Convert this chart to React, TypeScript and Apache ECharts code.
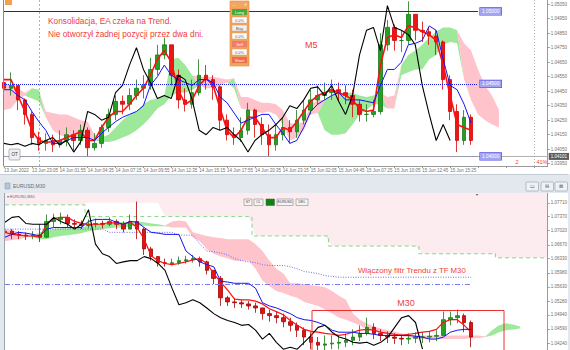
import React, { useEffect, useRef } from 'react';
import * as echarts from 'echarts';

// ---------- DATA ----------
const topTimeLabels = ['13 Jun 2022', '13 Jun 23:05', '14 Jun 01:55', '14 Jun 04:35', '14 Jun 07:15', '14 Jun 09:55', '14 Jun 12:35', '14 Jun 15:15', '14 Jun 17:55', '14 Jun 20:35', '14 Jun 23:15', '15 Jun 02:05', '15 Jun 04:45', '15 Jun 07:25', '15 Jun 10:05', '15 Jun 12:45', '15 Jun 15:25'];
const topPriceTicks = [1.0395, 1.0405, 1.0415, 1.0425, 1.0435, 1.0445, 1.0455, 1.0465, 1.0475, 1.0485, 1.0495, 1.0505];
const botPriceTicks = [1.0424, 1.0459, 1.0494, 1.0528, 1.0563, 1.0598, 1.0633, 1.0667, 1.0702, 1.0737, 1.0771];

const topFirstOpen = 1.0451;
const topClose = [1.0447, 1.0449, 1.0439, 1.0429, 1.0413, 1.0409, 1.0411, 1.0408, 1.0411, 1.0415,
  1.0411, 1.0418, 1.0406, 1.0409, 1.0420, 1.0429, 1.0438, 1.0436, 1.0442, 1.0447,
  1.0449, 1.0460, 1.0470, 1.0477, 1.0456, 1.0439, 1.0436, 1.0444, 1.0456, 1.0453,
  1.0448, 1.0425, 1.0415, 1.0413, 1.0418, 1.0432, 1.0422, 1.0415, 1.0408, 1.0415,
  1.0420, 1.0417, 1.0425, 1.0432, 1.0439, 1.0442, 1.0444, 1.0446, 1.0444, 1.0442,
  1.0436, 1.0429, 1.0429, 1.0431, 1.0477, 1.0489, 1.0480, 1.0480, 1.0498, 1.0487,
  1.0486, 1.0483, 1.0479, 1.0453, 1.0431, 1.0411, 1.0427, 1.0411];
const topHigh = [1.0454, 1.0458, 1.0449, 1.0440, 1.0431, 1.0417, 1.0416, 1.0415, 1.0418, 1.0420,
  1.0418, 1.0422, 1.0420, 1.0416, 1.0422, 1.0433, 1.0442, 1.0442, 1.0447, 1.0453,
  1.0456, 1.0468, 1.0477, 1.0482, 1.0477, 1.0460, 1.0447, 1.0453, 1.0467, 1.0463,
  1.0456, 1.0449, 1.0429, 1.0420, 1.0427, 1.0437, 1.0433, 1.0427, 1.0422, 1.0422,
  1.0427, 1.0425, 1.0432, 1.0439, 1.0446, 1.0449, 1.0451, 1.0453, 1.0451, 1.0449,
  1.0446, 1.0439, 1.0436, 1.0439, 1.0485, 1.0494, 1.0491, 1.0487, 1.0507, 1.0498,
  1.0493, 1.0489, 1.0487, 1.0480, 1.0456, 1.0436, 1.0432, 1.0429];
const topLow = [1.0439, 1.0442, 1.0432, 1.0422, 1.0408, 1.0404, 1.0404, 1.0403, 1.0406, 1.0407,
  1.0404, 1.0408, 1.0400, 1.0404, 1.0406, 1.0417, 1.0425, 1.0429, 1.0432, 1.0439,
  1.0440, 1.0446, 1.0456, 1.0467, 1.0449, 1.0433, 1.0431, 1.0433, 1.0442, 1.0446,
  1.0439, 1.0418, 1.0411, 1.0408, 1.0410, 1.0415, 1.0413, 1.0408, 1.0400, 1.0404,
  1.0411, 1.0409, 1.0413, 1.0422, 1.0429, 1.0436, 1.0439, 1.0439, 1.0438, 1.0436,
  1.0427, 1.0424, 1.0424, 1.0427, 1.0429, 1.0473, 1.0473, 1.0472, 1.0477, 1.0480,
  1.0479, 1.0477, 1.0470, 1.0446, 1.0425, 1.0403, 1.0408, 1.0408];
const topTenkan = [1.0453, 1.0453, 1.0442, 1.0431, 1.0418, 1.0411, 1.0410, 1.0410, 1.0411, 1.0413,
  1.0415, 1.0417, 1.0411, 1.0411, 1.0420, 1.0427, 1.0431, 1.0431, 1.0436, 1.0442,
  1.0447, 1.0456, 1.0467, 1.0473, 1.0465, 1.0446, 1.0436, 1.0439, 1.0449, 1.0454,
  1.0449, 1.0433, 1.0418, 1.0413, 1.0418, 1.0427, 1.0427, 1.0420, 1.0413, 1.0413,
  1.0420, 1.0418, 1.0424, 1.0431, 1.0438, 1.0442, 1.0444, 1.0446, 1.0444, 1.0442,
  1.0439, 1.0433, 1.0431, 1.0432, 1.0463, 1.0482, 1.0484, 1.0482, 1.0490, 1.0489,
  1.0486, 1.0484, 1.0480, 1.0463, 1.0442, 1.0422, 1.0420, 1.0418];
const topKijun = [1.0446, 1.0446, 1.0442, 1.0439, 1.0431, 1.0424, 1.0418, 1.0409, 1.0409, 1.0411,
  1.0413, 1.0413, 1.0413, 1.0411, 1.0416, 1.0420, 1.0424, 1.0427, 1.0429, 1.0431,
  1.0435, 1.0449, 1.0455, 1.0463, 1.0456, 1.0453, 1.0451, 1.0449, 1.0453, 1.0453,
  1.0451, 1.0441, 1.0437, 1.0430, 1.0423, 1.0425, 1.0427, 1.0429, 1.0429, 1.0422,
  1.0416, 1.0409, 1.0411, 1.0420, 1.0431, 1.0436, 1.0439, 1.0442, 1.0444, 1.0439,
  1.0439, 1.0439, 1.0438, 1.0437, 1.0449, 1.0460, 1.0460, 1.0465, 1.0477, 1.0478,
  1.0480, 1.0490, 1.0487, 1.0467, 1.0449, 1.0446, 1.0436, 1.0423];
const topChikou = [1.0409, 1.0408, 1.0409, 1.0407, 1.0409, 1.0408, 1.0411, 1.0413, 1.0408, 1.0411,
  1.0403, 1.0410, 1.0431, 1.0429, 1.0425, 1.0427, 1.0444, 1.0449, 1.0463, 1.0475,
  1.0460, 1.0451, 1.0440, 1.0442, 1.0440, 1.0456, 1.0453, 1.0439, 1.0418, 1.0415,
  1.0420, 1.0418, 1.0420, 1.0415, 1.0411, 1.0403, 1.0411, 1.0415, 1.0418, 1.0422,
  1.0427, 1.0435, 1.0433, 1.0439, 1.0447, 1.0448, 1.0442, 1.0449, 1.0438, 1.0429,
  1.0442, 1.0470, 1.0487, 1.0489, 1.0473, 1.0504, 1.0489, 1.0487, 1.0484, 1.0477,
  1.0449, 1.0429, 1.0411, 1.0422, 1.0411];
const topSpanA = [1.0432, 1.0433, 1.0439, 1.0442, 1.0447, 1.0446, 1.0427, 1.0418, 1.0415, 1.0413,
  1.0413, 1.0413, 1.0413, 1.0411, 1.0413, 1.0415, 1.0420, 1.0425, 1.0429, 1.0431,
  1.0436, 1.0439, 1.0440, 1.0442, 1.0467, 1.0468, 1.0463, 1.0456, 1.0449, 1.0447,
  1.0447, 1.0449, 1.0451, 1.0454, 1.0433, 1.0432, 1.0431, 1.0430, 1.0431, 1.0429,
  1.0422, 1.0411, 1.0413, 1.0418, 1.0429, 1.0430, 1.0439, 1.0442, 1.0444, 1.0444,
  1.0444, 1.0442, 1.0441, 1.0442, 1.0444, 1.0433, 1.0433, 1.0463, 1.0470, 1.0473,
  1.0477, 1.0482, 1.0486, 1.0489, 1.0489, 1.0487, 1.0453, 1.0439, 1.0429, 1.0425,
  1.0422, 1.0420];
const topSpanB = [1.0451, 1.0449, 1.0447, 1.0444, 1.0440, 1.0438, 1.0431, 1.0430, 1.0429, 1.0429,
  1.0427, 1.0425, 1.0424, 1.0415, 1.0410, 1.0410, 1.0411, 1.0413, 1.0415, 1.0418,
  1.0422, 1.0427, 1.0433, 1.0436, 1.0442, 1.0444, 1.0444, 1.0446, 1.0455, 1.0455,
  1.0455, 1.0454, 1.0453, 1.0447, 1.0441, 1.0441, 1.0439, 1.0437, 1.0437, 1.0436,
  1.0432, 1.0423, 1.0422, 1.0424, 1.0436, 1.0439, 1.0418, 1.0415, 1.0415, 1.0416,
  1.0422, 1.0429, 1.0432, 1.0436, 1.0436, 1.0441, 1.0442, 1.0456, 1.0458, 1.0460,
  1.0460, 1.0467, 1.0470, 1.0477, 1.0479, 1.0478, 1.0478, 1.0473, 1.0460, 1.0449,
  1.0442, 1.0432];
const topLevels = [1.05, 1.045, 1.04];
const topLevelStyles = ['solid', 'dotted', 'solid'];
const topCurrentPrice = 1.04101;

const botFirstOpen = 1.0698;
const botClose = [1.0701, 1.0693, 1.0691, 1.0689, 1.0691, 1.0686, 1.0725, 1.0730, 1.0735, 1.0720,
  1.0718, 1.0715, 1.0718, 1.0720, 1.0718, 1.0725, 1.0718, 1.0706, 1.0725, 1.0706,
  1.0657, 1.0638, 1.0623, 1.0621, 1.0623, 1.0628, 1.0630, 1.0633, 1.0625, 1.0604,
  1.0584, 1.0536, 1.0526, 1.0524, 1.0521, 1.0516, 1.0511, 1.0497, 1.0492, 1.0487,
  1.0477, 1.0468, 1.0456, 1.0439, 1.0426, 1.0419, 1.0422, 1.0424, 1.0426, 1.0431,
  1.0439, 1.0448, 1.0463, 1.0448, 1.0443, 1.0439, 1.0436, 1.0434, 1.0436, 1.0439,
  1.0439, 1.0441, 1.0443, 1.0482, 1.0487, 1.0492, 1.0475, 1.0439];
const botHigh = [1.0715, 1.0706, 1.0701, 1.0698, 1.0701, 1.0718, 1.0742, 1.0744, 1.0747, 1.0742,
  1.0730, 1.0727, 1.0730, 1.0732, 1.0727, 1.0735, 1.0730, 1.0725, 1.0742, 1.0774,
  1.0710, 1.0662, 1.0638, 1.0633, 1.0633, 1.0638, 1.0640, 1.0642, 1.0638, 1.0628,
  1.0604, 1.0590, 1.0541, 1.0536, 1.0531, 1.0528, 1.0524, 1.0511, 1.0507, 1.0502,
  1.0497, 1.0487, 1.0475, 1.0463, 1.0451, 1.0439, 1.0443, 1.0443, 1.0443, 1.0448,
  1.0458, 1.0468, 1.0487, 1.0473, 1.0458, 1.0453, 1.0448, 1.0446, 1.0448, 1.0451,
  1.0451, 1.0453, 1.0456, 1.0502, 1.0502, 1.0507, 1.0497, 1.0480];
const botLow = [1.0686, 1.0681, 1.0681, 1.0679, 1.0681, 1.0674, 1.0684, 1.0710, 1.0718, 1.0710,
  1.0708, 1.0706, 1.0708, 1.0710, 1.0708, 1.0713, 1.0706, 1.0698, 1.0706, 1.0681,
  1.0642, 1.0628, 1.0613, 1.0613, 1.0616, 1.0618, 1.0621, 1.0623, 1.0613, 1.0594,
  1.0570, 1.0516, 1.0516, 1.0511, 1.0511, 1.0507, 1.0499, 1.0482, 1.0477, 1.0473,
  1.0463, 1.0453, 1.0439, 1.0419, 1.0409, 1.0400, 1.0405, 1.0409, 1.0409, 1.0414,
  1.0419, 1.0429, 1.0443, 1.0434, 1.0429, 1.0424, 1.0422, 1.0419, 1.0422, 1.0424,
  1.0424, 1.0426, 1.0429, 1.0443, 1.0468, 1.0473, 1.0451, 1.0414];
const botTenkan = [1.0698, 1.0693, 1.0691, 1.0689, 1.0689, 1.0686, 1.0718, 1.0732, 1.0735, 1.0735,
  1.0725, 1.0720, 1.0718, 1.0718, 1.0718, 1.0723, 1.0720, 1.0718, 1.0723, 1.0710,
  1.0681, 1.0640, 1.0628, 1.0621, 1.0618, 1.0621, 1.0625, 1.0630, 1.0633, 1.0621,
  1.0596, 1.0575, 1.0555, 1.0533, 1.0531, 1.0531, 1.0528, 1.0521, 1.0509, 1.0502,
  1.0494, 1.0480, 1.0468, 1.0458, 1.0453, 1.0451, 1.0448, 1.0446, 1.0443, 1.0446,
  1.0451, 1.0456, 1.0458, 1.0456, 1.0451, 1.0448, 1.0446, 1.0443, 1.0446, 1.0448,
  1.0451, 1.0453, 1.0458, 1.0475, 1.0482, 1.0482, 1.0468, 1.0451];
const botKijun = [1.0686, 1.0693, 1.0698, 1.0696, 1.0693, 1.0689, 1.0706, 1.0710, 1.0710, 1.0710,
  1.0710, 1.0710, 1.0725, 1.0730, 1.0730, 1.0730, 1.0723, 1.0718, 1.0725, 1.0723,
  1.0710, 1.0698, 1.0696, 1.0693, 1.0693, 1.0693, 1.0652, 1.0638, 1.0625, 1.0618,
  1.0613, 1.0577, 1.0575, 1.0572, 1.0572, 1.0572, 1.0560, 1.0524, 1.0516, 1.0511,
  1.0504, 1.0497, 1.0487, 1.0482, 1.0480, 1.0475, 1.0468, 1.0456, 1.0451, 1.0451,
  1.0451, 1.0448, 1.0448, 1.0446, 1.0443, 1.0443, 1.0443, 1.0443, 1.0443, 1.0441,
  1.0439, 1.0434, 1.0434, 1.0439, 1.0451, 1.0456, 1.0458, 1.0458];
const botChikou = [1.0723, 1.0735, 1.0737, 1.0720, 1.0718, 1.0718, 1.0718, 1.0735, 1.0725, 1.0718,
  1.0706, 1.0718, 1.0754, 1.0669, 1.0645, 1.0638, 1.0621, 1.0625, 1.0628, 1.0628,
  1.0638, 1.0633, 1.0621, 1.0604, 1.0560, 1.0519, 1.0524, 1.0531, 1.0524, 1.0511,
  1.0497, 1.0487, 1.0480, 1.0475, 1.0468, 1.0470, 1.0456, 1.0434, 1.0448, 1.0426,
  1.0409, 1.0414, 1.0409, 1.0426, 1.0443, 1.0463, 1.0468, 1.0451, 1.0439, 1.0434,
  1.0426, 1.0424, 1.0426, 1.0419, 1.0426, 1.0439, 1.0463, 1.0487, 1.0492, 1.0475,
  1.0409];
const botSpanA = [1.0676, 1.0679, 1.0681, 1.0686, 1.0686, 1.0698, 1.0701, 1.0706, 1.0708, 1.0708,
  1.0710, 1.0710, 1.0715, 1.0718, 1.0720, 1.0720, 1.0723, 1.0723, 1.0725, 1.0725,
  1.0723, 1.0720, 1.0718, 1.0715, 1.0710, 1.0710, 1.0710, 1.0686, 1.0676, 1.0657,
  1.0645, 1.0638, 1.0633, 1.0628, 1.0628, 1.0628, 1.0608, 1.0579, 1.0565, 1.0553,
  1.0548, 1.0541, 1.0536, 1.0526, 1.0521, 1.0516, 1.0507, 1.0497, 1.0487, 1.0482,
  1.0475, 1.0468, 1.0458, 1.0453, 1.0448, 1.0446, 1.0443, 1.0441, 1.0439, 1.0434,
  1.0434, 1.0434, 1.0434, 1.0434, 1.0434, 1.0434, 1.0434, 1.0436, 1.0436, 1.0439,
  1.0456, 1.0468, 1.0473, 1.0470, 1.0465];
const botSpanB = [1.0706, 1.0703, 1.0698, 1.0693, 1.0691, 1.0681, 1.0681, 1.0686, 1.0689, 1.0691,
  1.0693, 1.0696, 1.0701, 1.0703, 1.0706, 1.0708, 1.0710, 1.0710, 1.0713, 1.0715,
  1.0715, 1.0713, 1.0713, 1.0713, 1.0725, 1.0727, 1.0725, 1.0698, 1.0693, 1.0689,
  1.0686, 1.0684, 1.0681, 1.0681, 1.0681, 1.0681, 1.0669, 1.0652, 1.0628, 1.0608,
  1.0596, 1.0572, 1.0572, 1.0570, 1.0567, 1.0565, 1.0562, 1.0553, 1.0541, 1.0531,
  1.0497, 1.0482, 1.0473, 1.0465, 1.0460, 1.0456, 1.0453, 1.0448, 1.0446, 1.0443,
  1.0443, 1.0443, 1.0443, 1.0443, 1.0443, 1.0443, 1.0443, 1.0443, 1.0443, 1.0441,
  1.0443, 1.0451, 1.0456, 1.0458, 1.0460];
// higher-timeframe cloud (dashed green span, dotted pink fill, dotted blue kijun)
const botHtfSpan = [1.0766, 1.0766, 1.0766, 1.0766, 1.0766, 1.0766, 1.0766, 1.0766, 1.0766, 1.0766,
  1.0766, 1.0766, 1.0737, 1.0737, 1.0737, 1.0737, 1.0737, 1.0737, 1.0737, 1.0737,
  1.0737, 1.0737, 1.0737, 1.0737, 1.0737, 1.0737, 1.0737, 1.0737, 1.0737, 1.0737,
  1.0737, 1.0737, 1.0737, 1.0737, 1.0737, 1.0737, 1.0689, 1.0689, 1.0689, 1.0689,
  1.0689, 1.0689, 1.0689, 1.0689, 1.0689, 1.0689, 1.0689, 1.0664, 1.0664, 1.0664,
  1.0664, 1.0664, 1.0664, 1.0664, 1.0664, 1.0664, 1.0664, 1.0664, 1.0664, 1.0664,
  1.0645, 1.0645, 1.0645, 1.0645, 1.0645, 1.0645, 1.0645, 1.0645, 1.0645, 1.0645,
  1.0645, 1.0635, 1.0635, 1.0635, 1.0635, 1.0635, 1.0635, 1.0635, 1.0635];
const botHtfFillLower = [1.0766, 1.0766, 1.0766, 1.0766, 1.0766, 1.0766, 1.0766, 1.0766, 1.0766, 1.0766,
  1.0766, 1.0766, 1.0771, 1.0771, 1.0771, 1.0771, 1.0771, 1.0771, 1.0771, 1.0771,
  1.0771, 1.0771, 1.0771, 1.0737, 1.0737, 1.0737, 1.0737, 1.0737, 1.0737, 1.0737,
  1.0737, 1.0737, 1.0737, 1.0737, 1.0737, 1.0737, 1.0689, 1.0689, 1.0689, 1.0689,
  1.0689, 1.0689, 1.0689, 1.0689, 1.0689, 1.0689, 1.0689, 1.0664, 1.0664, 1.0664,
  1.0664, 1.0664, 1.0664, 1.0664, 1.0664, 1.0664, 1.0664, 1.0664, 1.0664, 1.0664,
  1.0645, 1.0645, 1.0645, 1.0645, 1.0645, 1.0645, 1.0645, 1.0645, 1.0645, 1.0645,
  1.0645, 1.0635, 1.0635, 1.0635, 1.0635, 1.0635, 1.0635, 1.0635, 1.0635];
const botHtfKijun = [1.0706, 1.0706, 1.0706, 1.0706, 1.0706, 1.0706, 1.0706, 1.0706, 1.0706, 1.0706,
  1.0706, 1.0706, 1.0706, 1.0706, 1.0706, 1.0698, 1.0698, 1.0698, 1.0698, 1.0698,
  1.0698, 1.0698, 1.0698, 1.0698, 1.0698, 1.0691, 1.0691, 1.0691, 1.0669, 1.0652,
  1.0650, 1.0647, 1.0642, 1.0633, 1.0628, 1.0625, 1.0623, 1.0618, 1.0616, 1.0616,
  1.0616, 1.0613, 1.0608, 1.0601, 1.0599, 1.0596, 1.0591, 1.0589, 1.0587, 1.0587,
  1.0587, 1.0587, 1.0587, 1.0587, 1.0587, 1.0587, 1.0587, 1.0587, 1.0587, 1.0587,
  1.0587, 1.0587, 1.0587, 1.0587, 1.0587, 1.0587, 1.0587, 1.0587];
const botLevel = 1.0570;

// ---------- helpers ----------
const SLOTS = 79;
const TOP_MIN = 1.03934, TOP_MAX = 1.05079;
const BOT_MIN = 1.0407, BOT_MAX = 1.07953;
const FONT = 'Liberation Sans, Arial, sans-serif';
const RED_TXT = '#f0403a';

const slots = Array.from({ length: SLOTS }, (_, i) => String(i));
const candles = (first: number, c: number[], l: number[], h: number[]) =>
  c.map((v, i) => [i === 0 ? first : c[i - 1], v, l[i], h[i]]);
const cloud = (a: number[], b: number[]) => ({
  base: a.map((v, i) => Math.min(v, b[i])),
  green: a.map((v, i) => (v > b[i] ? v - b[i] : 0)),
  pink: a.map((v, i) => (b[i] > v ? b[i] - v : 0)),
});

function cloudSeries(a: number[], b: number[], axis: number, stack: string) {
  const c = cloud(a, b);
  const common = { type: 'line', xAxisIndex: axis, yAxisIndex: axis, symbol: 'none', stack, lineStyle: { width: 0 }, z: 1, silent: true };
  return [
    { ...common, data: c.base },
    { ...common, data: c.green, areaStyle: { color: '#9ee89a', opacity: 1 } },
    { ...common, data: c.pink, areaStyle: { color: '#ffc3cc', opacity: 1 } },
  ];
}

function buildOption() {
  const g: any[] = [];
  const rect = (x: number, y: number, w: number, h: number, fill: string, stroke?: string, lw = 0.5, r = 0) =>
    g.push({ type: 'rect', z: 100, shape: { x, y, width: w, height: h, r }, style: { fill, stroke: stroke || 'none', lineWidth: lw } });
  const text = (x: number, y: number, t: string, size: number, fill: string, align = 'left', v = 'middle') =>
    g.push({ type: 'text', z: 101, x, y, style: { text: t, fontSize: size, fontFamily: FONT, fill, align, verticalAlign: v } });
  const line = (x1: number, y1: number, x2: number, y2: number, stroke: string, lw = 1) =>
    g.push({ type: 'line', z: 100, shape: { x1, y1, x2, y2 }, style: { stroke, lineWidth: lw } });

  // top window decorations
  rect(5, 0, 7, 5, '#f3a04a');
  line(3.5, 0, 3.5, 166, '#8a8a8a', 1);
  // trading widget
  rect(230, 1, 19, 65, '#f5a55d', '#e58a3c', 0.6);
  text(233, 4, '–', 4, '#fff');
  text(245.5, 4, '✕', 4, '#fff', 'center');
  const btns: [string, string, string][] = [
    ['Long', '#3aae3a', '#fff'], ['0.0%', '#ffffff', '#555'], ['Buy', '#efefef', '#555'],
    ['0.0%', '#ffffff', '#555'], ['Sell', '#f47c66', '#fff'], ['0.0%', '#ffffff', '#555'], ['Short', '#ee6a4a', '#fff'],
  ];
  btns.forEach(([t, f, c], i) => {
    rect(232, 9 + i * 8, 15, 6, f, '#d08a5a', 0.4);
    text(239.5, 12 + i * 8, t, 4, c, 'center');
  });
  // OT button
  rect(9, 149, 11, 11, '#efefef', '#8a8a8a', 0.6, 1);
  text(14.5, 154.5, 'OT', 4.5, '#333', 'center');
  // annotations
  text(48, 21, 'Konsolidacja, EA czeka na Trend.', 8.3, RED_TXT);
  text(48, 34, 'Nie otworzył żadnej pozycji przez dwa dni.', 8.3, RED_TXT);
  text(305, 45, 'M5', 9, RED_TXT);
  text(517, 162, '2', 5.5, RED_TXT, 'center');
  text(542, 162, '41%', 5.5, RED_TXT, 'center');

  // frame between windows
  rect(0, 174, 570, 19, '#e3e8ef');
  line(0, 174.5, 570, 174.5, '#c4ccd6', 1);
  rect(0, 193, 4.5, 157, '#e3e8ef');
  line(4.5, 193, 4.5, 350, '#9aa4b0', 1);
  rect(568, 174, 2, 176, '#e3e8ef');
  rect(5, 183, 5, 6, '#b6c6da', '#7f95b0', 0.5);
  text(13, 186, 'EURUSD,M30', 5, '#606a76');
  [526, 541, 555].forEach((x, i) => {
    rect(x, 182, 12.5, 9, '#eef2f6', '#8d99a6', 0.6, 1);
    text(x + 6.25, 186.5, ['▭', '⊟', '⊠'][i], 4.5, '#555', 'center');
  });
  // bottom panel header and buttons
  text(7, 197, '▾ EURUSD,M30', 3.8, '#666');
  rect(244, 199, 8, 6.5, '#f4f4f4', '#777', 0.5);
  text(248, 202.2, 'ST', 3.5, '#444', 'center');
  rect(254, 199, 9, 6.5, '#f4f4f4', '#777', 0.5);
  text(258.5, 202.2, 'CL', 3.5, '#444', 'center');
  rect(266, 199, 8.5, 6.5, '#0a860a', '#555', 0.5);
  rect(277, 199, 16, 6.5, '#f4f4f4', '#777', 0.5);
  text(285, 202.2, 'EURUSD', 3.5, '#444', 'center');
  rect(296, 199, 12, 6.5, '#f4f4f4', '#777', 0.5);
  text(302, 202.2, 'DEL', 3.5, '#444', 'center');
  text(477, 195, '▼', 3.5, '#555', 'center');
  // bottom annotations
  text(358, 270, 'Włączony filtr Trendu z TF M30', 7.8, RED_TXT);
  text(406, 303, 'M30', 9, RED_TXT, 'center');
  g.push({ type: 'rect', z: 100, shape: { x: 312, y: 310.5, width: 192, height: 60 }, style: { fill: 'none', stroke: '#f03030', lineWidth: 1 } });

  const axisLabelBase = { fontSize: 4.5, color: '#707070', fontFamily: FONT };
  const htfTop = botHtfFillLower.map((v) => BOT_MAX - v);

  const series: any[] = [
    // ---- top panel ----
    ...cloudSeries(topSpanA, topSpanB, 0, 'topCloud'),
    {
      type: 'candlestick', xAxisIndex: 0, yAxisIndex: 0, z: 3,
      data: candles(topFirstOpen, topClose, topLow, topHigh), barWidth: 4,
      itemStyle: { color: '#25a025', color0: '#e81818', borderColor: '#157a15', borderColor0: '#d40000', borderWidth: 0.8 },
      markLine: {
        silent: true, symbol: ['none', 'none'], label: { show: false },
        data: [
          { xAxis: 5, lineStyle: { color: '#a0a0a0', type: [2, 2], width: 0.8 } },
          { xAxis: 76, lineStyle: { color: '#a0a0a0', type: [1, 2], width: 0.8 } },
        ],
      },
    },
    { type: 'line', xAxisIndex: 0, yAxisIndex: 0, z: 4, symbol: 'none', data: topTenkan, lineStyle: { color: '#ff1010', width: 1.6 } },
    {
      type: 'line', xAxisIndex: 0, yAxisIndex: 0, z: 5, symbol: 'none', data: topKijun, lineStyle: { color: '#1414f0', width: 1 },
      markLine: {
        silent: true, symbol: ['none', 'none'],
        label: { show: true, position: 'end', distance: 2, formatter: '{b}', fontSize: 4.8, color: '#fff', fontFamily: FONT, backgroundColor: '#a4a4f2', borderColor: '#4b4be6', borderWidth: 0.6, padding: [1, 2] },
        data: topLevels.map((lv, i) => [
          { name: lv.toFixed(5), coord: [0, lv], lineStyle: { color: '#1a1ae6', width: 1, type: topLevelStyles[i] } },
          { coord: [68, lv] },
        ]),
      },
    },
    {
      type: 'line', xAxisIndex: 0, yAxisIndex: 0, z: 6, symbol: 'none', data: topChikou, lineStyle: { color: '#000', width: 1.1 },
      markLine: {
        silent: true, symbol: ['none', 'none'],
        label: { show: true, position: 'end', distance: 1, formatter: topCurrentPrice.toFixed(5), fontSize: 4.5, color: '#fff', fontFamily: FONT, backgroundColor: '#5c5c5c', padding: [1, 2] },
        lineStyle: { color: '#a8a8a8', width: 0.9, type: 'solid' },
        data: [{ yAxis: topCurrentPrice }],
      },
    },
    // ---- bottom panel ----
    { type: 'line', xAxisIndex: 1, yAxisIndex: 1, symbol: 'none', stack: 'htf', z: 0, data: botHtfFillLower, lineStyle: { width: 0 }, silent: true },
    { type: 'line', xAxisIndex: 1, yAxisIndex: 1, symbol: 'none', stack: 'htf', z: 0, data: htfTop, lineStyle: { width: 0 }, areaStyle: { color: '#fdecef', opacity: 1 }, silent: true },
    ...cloudSeries(botSpanA, botSpanB, 1, 'botCloud'),
    { type: 'line', xAxisIndex: 1, yAxisIndex: 1, symbol: 'none', step: 'middle', z: 2, data: botHtfSpan, lineStyle: { color: '#86d886', width: 1, type: [4, 3] } },
    { type: 'line', xAxisIndex: 1, yAxisIndex: 1, symbol: 'none', z: 2, data: botHtfKijun, lineStyle: { color: '#6b6bf5', width: 1, type: [1, 1.5] } },
    {
      type: 'candlestick', xAxisIndex: 1, yAxisIndex: 1, z: 3,
      data: candles(botFirstOpen, botClose, botLow, botHigh), barWidth: 4,
      itemStyle: { color: '#25a025', color0: '#d81818', borderColor: '#157a15', borderColor0: '#a80000', borderWidth: 0.8 },
    },
    { type: 'line', xAxisIndex: 1, yAxisIndex: 1, z: 4, symbol: 'none', data: botTenkan, lineStyle: { color: '#ff1010', width: 1.2 } },
    {
      type: 'line', xAxisIndex: 1, yAxisIndex: 1, z: 5, symbol: 'none', data: botKijun, lineStyle: { color: '#1414f0', width: 1 },
      markLine: {
        silent: true, symbol: ['none', 'none'], label: { show: false },
        data: [[{ coord: [0, botLevel], lineStyle: { color: '#7b7bf5', width: 1, type: [5, 2, 1, 2] } }, { coord: [67, botLevel] }]],
      },
    },
    { type: 'line', xAxisIndex: 1, yAxisIndex: 1, z: 6, symbol: 'none', data: botChikou, lineStyle: { color: '#000', width: 1.1 } },
  ];

  return {
    animation: false,
    backgroundColor: '#ffffff',
    grid: [
      { left: 4, top: 0, width: 544, height: 166 },
      { left: 5, top: 193, width: 543, height: 160 },
    ],
    xAxis: [
      {
        type: 'category', gridIndex: 0, data: slots, boundaryGap: false,
        axisLine: { lineStyle: { color: '#9a9a9a', width: 1 } },
        axisTick: { show: true, interval: 3, length: 2, lineStyle: { color: '#9a9a9a' } },
        axisLabel: { ...axisLabelBase, interval: 3, align: 'left', margin: 2, formatter: (_v: string, i: number) => topTimeLabels[i / 4] ?? '' },
        splitLine: { show: false },
      },
      { type: 'category', gridIndex: 1, data: slots, boundaryGap: false, show: false },
    ],
    yAxis: [
      {
        type: 'value', gridIndex: 0, position: 'right', min: TOP_MIN, max: TOP_MAX,
        splitLine: { show: false },
        axisLine: { show: true, lineStyle: { color: '#9a9a9a' } },
        axisTick: { show: true, length: 2, customValues: topPriceTicks, lineStyle: { color: '#9a9a9a' } },
        axisLabel: { ...axisLabelBase, margin: 3, customValues: topPriceTicks, formatter: (v: number) => v.toFixed(5) },
      },
      {
        type: 'value', gridIndex: 1, position: 'right', min: BOT_MIN, max: BOT_MAX,
        splitLine: { show: false },
        axisLine: { show: true, lineStyle: { color: '#9a9a9a' } },
        axisTick: { show: true, length: 2, customValues: botPriceTicks, lineStyle: { color: '#9a9a9a' } },
        axisLabel: { ...axisLabelBase, margin: 3, customValues: botPriceTicks, formatter: (v: number) => v.toFixed(5) },
      },
    ],
    series,
    graphic: { elements: g },
  };
}

export default function App() {
  const ref = useRef<HTMLDivElement>(null);
  useEffect(() => {
    if (!ref.current) return;
    const chart = echarts.init(ref.current, null, { renderer: 'svg' });
    chart.setOption(buildOption() as any);
    return () => chart.dispose();
  }, []);
  return (
    <div
      ref={ref}
      style={{ position: 'fixed', left: 0, top: 0, width: 570, height: 350, background: '#fff', overflow: 'hidden' }}
    />
  );
}
